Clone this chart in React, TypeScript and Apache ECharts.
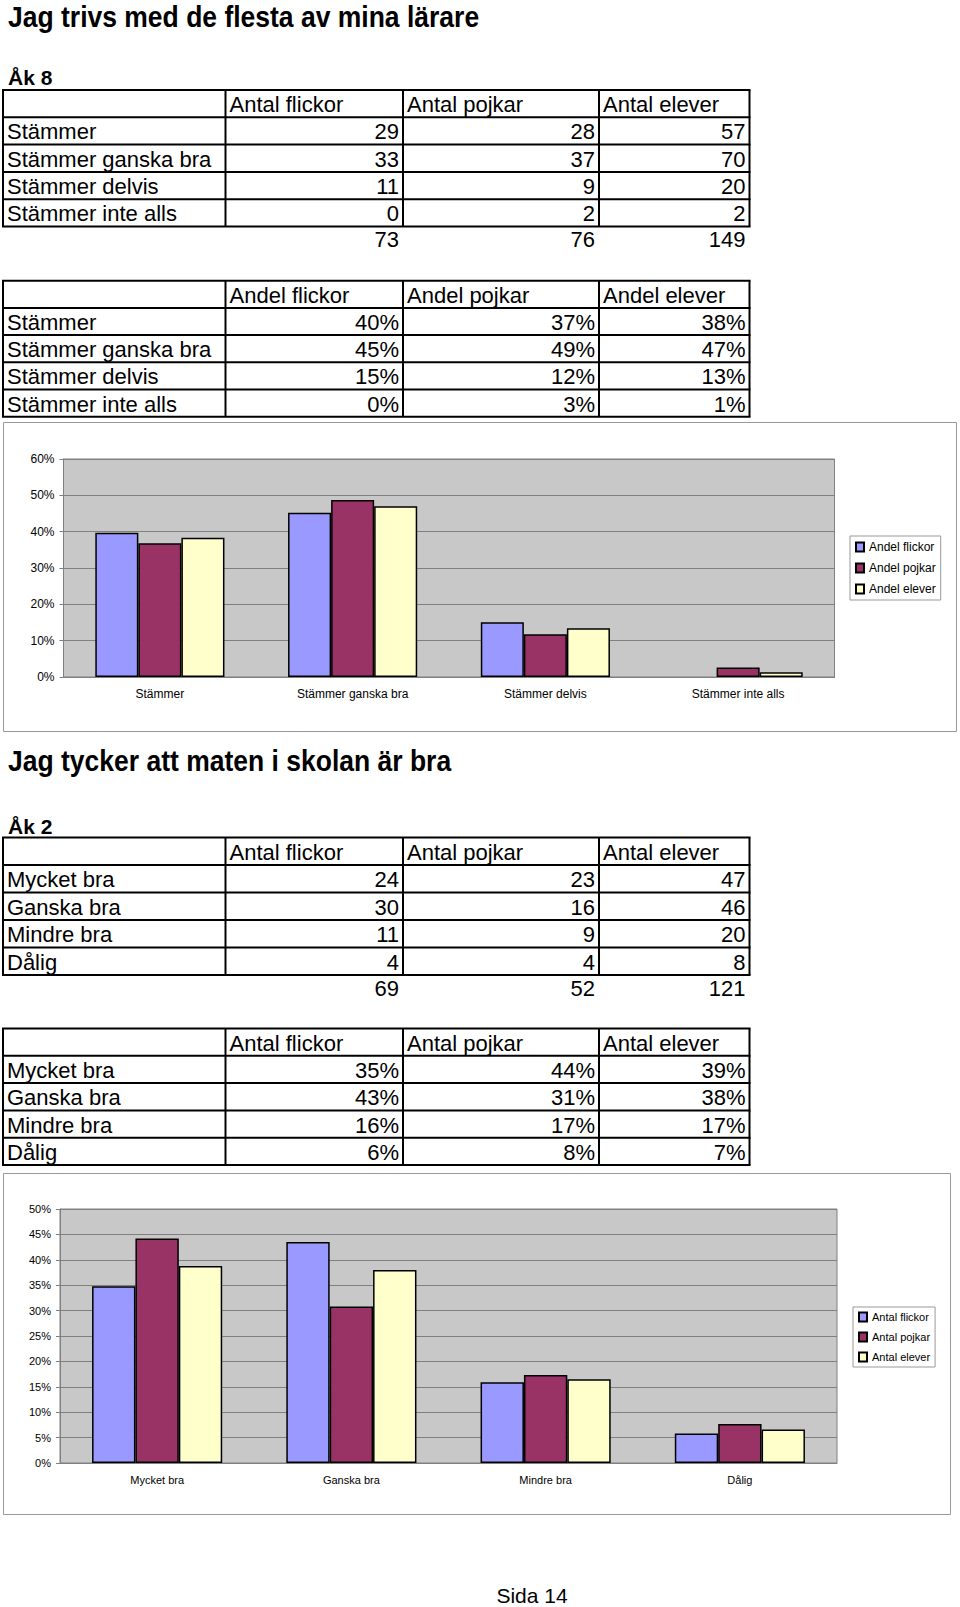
import React, { useEffect, useRef } from "react";
import * as echarts from "echarts";

// ---------- Section 1 ----------
const title1 = "Jag trivs med de flesta av mina lärare";
const grade1 = "Åk 8";
const rows1 = ["Stämmer", "Stämmer ganska bra", "Stämmer delvis", "Stämmer inte alls"];
const countHeaders1 = ["Antal flickor", "Antal pojkar", "Antal elever"];
const girls1 = [29, 33, 11, 0];
const boys1 = [28, 37, 9, 2];
const pupils1 = [57, 70, 20, 2];
const totals1 = [73, 76, 149];
const shareHeaders1 = ["Andel flickor", "Andel pojkar", "Andel elever"];
const girlsShare1 = ["40%", "45%", "15%", "0%"];
const boysShare1 = ["37%", "49%", "12%", "3%"];
const pupilsShare1 = ["38%", "47%", "13%", "1%"];
const chart1Girls = [39.7, 45.2, 15.1, 0];
const chart1Boys = [36.8, 48.7, 11.8, 2.6];
const chart1Pupils = [38.3, 47.0, 13.4, 1.3];
const chart1YMax = 60;
const chart1YStep = 10;

// ---------- Section 2 ----------
const title2 = "Jag tycker att maten i skolan är bra";
const grade2 = "Åk 2";
const rows2 = ["Mycket bra", "Ganska bra", "Mindre bra", "Dålig"];
const countHeaders2 = ["Antal flickor", "Antal pojkar", "Antal elever"];
const girls2 = [24, 30, 11, 4];
const boys2 = [23, 16, 9, 4];
const pupils2 = [47, 46, 20, 8];
const totals2 = [69, 52, 121];
const shareHeaders2 = ["Antal flickor", "Antal pojkar", "Antal elever"];
const girlsShare2 = ["35%", "43%", "16%", "6%"];
const boysShare2 = ["44%", "31%", "17%", "8%"];
const pupilsShare2 = ["39%", "38%", "17%", "7%"];
const chart2Girls = [34.8, 43.5, 15.9, 5.8];
const chart2Boys = [44.2, 30.8, 17.3, 7.7];
const chart2Pupils = [38.8, 38.0, 16.5, 6.6];
const chart2YMax = 50;
const chart2YStep = 5;

const footer = "Sida 14";

// ---------- styling ----------
const FONT = "'Liberation Sans', Arial, Helvetica, sans-serif";
const COLORS = ["#9999FF", "#993366", "#FFFFCC"];
const COLS = [3, 225.5, 403, 599, 749.5];
const CELL_FONT = 22;

function txt(x: number, y: number, s: string, align: string, size = CELL_FONT, weight = "normal", extra: any = {}) {
  return {
    type: "text",
    x,
    y,
    ...extra,
    style: {
      text: s,
      fill: "#000",
      fontFamily: FONT,
      fontSize: size,
      fontWeight: weight,
      align,
      textAlign: align,
      verticalAlign: "middle",
      textVerticalAlign: "middle",
    },
  };
}

function table(top: number, rowH: number, headers: string[], labels: string[], columns: (string | number)[][], totals?: number[]) {
  const els: any[] = [];
  const nRows = labels.length + 1;
  const bottom = top + nRows * rowH;
  for (let i = 0; i <= nRows; i++) {
    const y = top + i * rowH;
    els.push({ type: "line", shape: { x1: COLS[0] - 1, y1: y, x2: COLS[4] + 1, y2: y }, style: { stroke: "#000", lineWidth: 2 } });
  }
  COLS.forEach((x) => {
    els.push({ type: "line", shape: { x1: x, y1: top, x2: x, y2: bottom }, style: { stroke: "#000", lineWidth: 2 } });
  });
  headers.forEach((h, j) => els.push(txt(COLS[j + 1] + 4, top + rowH / 2 + 1, h, "left")));
  labels.forEach((l, i) => {
    const y = top + (i + 1.5) * rowH + 1;
    els.push(txt(7, y, l, "left"));
    columns.forEach((col, j) => els.push(txt(COLS[j + 2] - 4, y, String(col[i]), "right")));
  });
  if (totals) {
    totals.forEach((t, j) => els.push(txt(COLS[j + 2] - 4, bottom + 13, String(t), "right")));
  }
  return els;
}

function barSeries(name: string, data: number[], idx: number, color: string) {
  return {
    type: "bar",
    name,
    xAxisIndex: idx,
    yAxisIndex: idx,
    barGap: "0%",
    barCategoryGap: "33%",
    data: data.map((v) => (v === 0 ? { value: v, itemStyle: { borderWidth: 0 } } : v)),
    itemStyle: { color, borderColor: "#000", borderWidth: 1.5 },
  };
}

function xAxis(idx: number, data: string[], size: number) {
  return {
    gridIndex: idx,
    type: "category",
    data,
    axisLine: { lineStyle: { color: "#808080", width: 1 } },
    axisTick: { length: 4, lineStyle: { color: "#808080" } },
    axisLabel: { fontSize: size, color: "#000", fontFamily: FONT, margin: 11 },
  };
}

function yAxis(idx: number, max: number, step: number, size: number) {
  return {
    gridIndex: idx,
    type: "value",
    min: 0,
    max,
    interval: step,
    axisLabel: { formatter: "{value}%", fontSize: size, color: "#000", fontFamily: FONT, margin: 9 },
    axisLine: { show: true, lineStyle: { color: "#808080" } },
    axisTick: { show: true, length: 4, lineStyle: { color: "#808080" } },
    splitLine: { lineStyle: { color: "#808080", width: 1 } },
  };
}

function legend(left: number, top: number, names: string[], size: number, pad: number[]) {
  return {
    orient: "vertical",
    left,
    top,
    data: names,
    icon: "rect",
    itemWidth: 8,
    itemHeight: 9,
    itemGap: 9,
    padding: pad,
    backgroundColor: "#fff",
    borderColor: "#999",
    borderWidth: 1,
    borderRadius: 0,
    selectedMode: false,
    textStyle: { fontSize: size, lineHeight: size, color: "#000", fontFamily: FONT },
  };
}

export default function App() {
  const ref = useRef<HTMLDivElement>(null);
  useEffect(() => {
    if (!ref.current) return;
    const chart = echarts.init(ref.current, undefined, { renderer: "svg" });
    const graphics: any[] = [
      txt(8, 17, title1, "left", 26.5, "bold", { scaleY: 1.1 }),
      txt(8, 77, grade1, "left", 21, "bold"),
      ...table(90, 27.3, countHeaders1, rows1, [girls1, boys1, pupils1], totals1),
      ...table(280.7, 27.2, shareHeaders1, rows1, [girlsShare1, boysShare1, pupilsShare1]),
      { type: "rect", z: -1, shape: { x: 3.5, y: 422.5, width: 953, height: 309 }, style: { fill: "none", stroke: "#999", lineWidth: 1 } },
      txt(8, 761, title2, "left", 26.5, "bold", { scaleY: 1.1 }),
      txt(8, 826, grade2, "left", 21, "bold"),
      ...table(837.5, 27.5, countHeaders2, rows2, [girls2, boys2, pupils2], totals2),
      ...table(1028.5, 27.3, shareHeaders2, rows2, [girlsShare2, boysShare2, pupilsShare2]),
      { type: "rect", z: -1, shape: { x: 3.5, y: 1173.5, width: 947, height: 341 }, style: { fill: "none", stroke: "#999", lineWidth: 1 } },
      txt(532, 1595, footer, "center", 21, "normal"),
    ];
    chart.setOption({
      animation: false,
      backgroundColor: "#fff",
      graphic: { elements: graphics },
      grid: [
        { left: 63.5, top: 459, width: 771, height: 218, show: true, backgroundColor: "#C8C8C8", borderColor: "#808080", borderWidth: 1 },
        { left: 60, top: 1209, width: 777, height: 254, show: true, backgroundColor: "#C8C8C8", borderColor: "#808080", borderWidth: 1 },
      ],
      xAxis: [xAxis(0, rows1, 12), xAxis(1, rows2, 11)],
      yAxis: [yAxis(0, chart1YMax, chart1YStep, 12), yAxis(1, chart2YMax, chart2YStep, 11)],
      legend: [
        legend(850, 536, shareHeaders1, 12, [5, 5, 5, 5]),
        legend(853, 1307, shareHeaders2, 11, [4.5, 5, 4.5, 5]),
      ],
      series: [
        barSeries(shareHeaders1[0], chart1Girls, 0, COLORS[0]),
        barSeries(shareHeaders1[1], chart1Boys, 0, COLORS[1]),
        barSeries(shareHeaders1[2], chart1Pupils, 0, COLORS[2]),
        barSeries(shareHeaders2[0], chart2Girls, 1, COLORS[0]),
        barSeries(shareHeaders2[1], chart2Boys, 1, COLORS[1]),
        barSeries(shareHeaders2[2], chart2Pupils, 1, COLORS[2]),
      ],
    });
    return () => chart.dispose();
  }, []);
  return (
    <div
      ref={ref}
      style={{ position: "absolute", left: 0, top: 0, width: 960, height: 1607, background: "#fff" }}
    />
  );
}
